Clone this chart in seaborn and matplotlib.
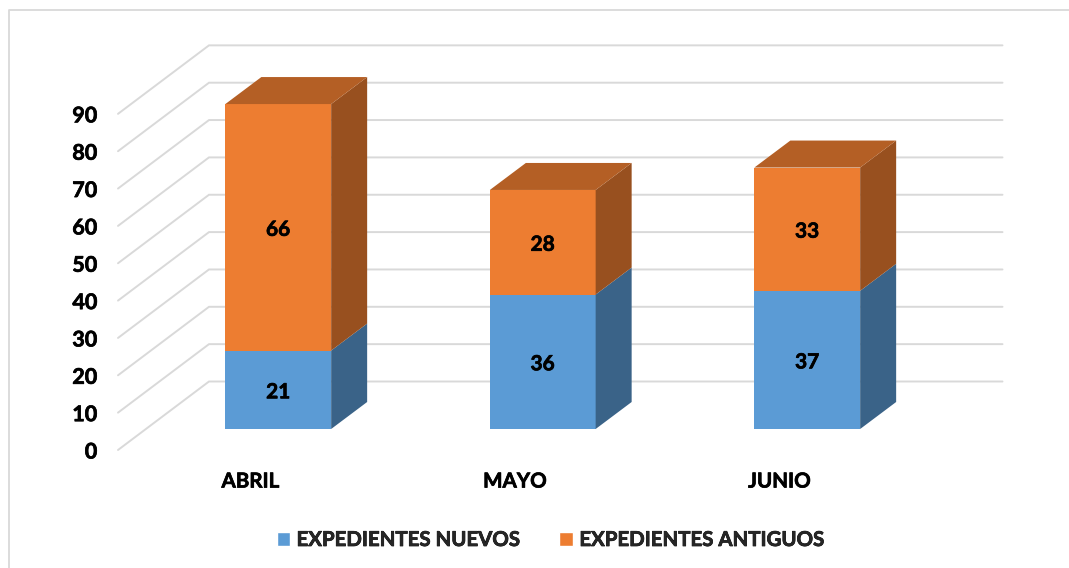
import matplotlib
matplotlib.use('Agg')
import matplotlib.pyplot as plt
import matplotlib.colors as mcolors
from matplotlib.patches import Polygon, Patch
import matplotlib.patheffects as pe
import pandas as pd
import seaborn as sns

# Values
months = ['ABRIL', 'MAYO', 'JUNIO']
nuevos = [21, 36, 37]
antiguos = [66, 28, 33]
y_ticks = list(range(0, 100, 10))

BLUE = '#5b9bd5'
ORANGE = '#ed7d31'
GRID = '#d9d9d9'

W, H = 1069, 568
PX_Y = 37.35 / 10   # pixels per unit on the y axis
PX_X = 264.5        # pixels per category

sns.set_theme(style='white')
plt.rcParams['font.family'] = ['Lato', 'DejaVu Sans']
plt.rcParams['font.weight'] = 'bold'

# Lato bold is a bit lighter than the original, so thicken it slightly
thick = [pe.withStroke(linewidth=0.5, foreground='black')]

df = pd.DataFrame({'mes': months, 'nuevos': nuevos, 'antiguos': antiguos})
df['total'] = df['nuevos'] + df['antiguos']

fig = plt.figure(figsize=(W / 100, H / 100), dpi=100)


def make_axes(left, y0):
    # axes spanning three categories, with y=0 at pixel y0, same scale for both planes
    height = 110 * PX_Y
    ax = fig.add_axes([left / W, (H - y0) / H, 3 * PX_X / W, height / H])
    ax.set_xlim(-0.5, 2.5)
    ax.set_ylim(0, 110)
    ax.patch.set_alpha(0)
    sns.despine(ax=ax, left=True, bottom=True)
    return ax


# chart border
fig.add_artist(plt.Line2D([8.5 / W, 8.5 / W, 1], [0, 1 - 10 / H, 1 - 10 / H], color=GRID, lw=1.3))

# wall plane: gridlines, y labels, month labels
wall = make_axes(118, 450)
wall_dx = 91 / PX_X
wall_dy = 68.5 / PX_Y
for v in y_ticks:
    wall.plot([-0.5, -0.5 + wall_dx, 2.5 + wall_dx], [v, v + wall_dy, v + wall_dy],
              color=GRID, lw=1.4, clip_on=False, solid_joinstyle='miter')
wall.set_yticks(y_ticks)
wall.set_yticklabels(y_ticks, fontsize=15.5, fontweight='bold', color='black', path_effects=thick)
wall.set_xticks(range(len(months)))
wall.set_xticklabels(months, fontsize=14.8, fontweight='bold', color='black', path_effects=thick)
wall.tick_params(axis='y', length=0, pad=15)
wall.tick_params(axis='x', length=0, pad=15.5)
for lab in wall.get_yticklabels():
    lab.set_verticalalignment('center_baseline')

# bar plane: front faces drawn by seaborn, stacked
ax = make_axes(146, 429)
sns.barplot(data=df, x='mes', y='total', color=ORANGE, width=0.4, saturation=1, linewidth=0, ax=ax)
sns.barplot(data=df, x='mes', y='nuevos', color=BLUE, width=0.4, saturation=1, linewidth=0, ax=ax)
ax.set_xlim(-0.5, 2.5)
ax.set_ylim(0, 110)
ax.set_xlabel('')
ax.set_ylabel('')
ax.set_xticks([])
ax.set_yticks([])

# side and top faces of the bars
dx = 36 / PX_X
dy = 27 / PX_Y
half = 0.2


def dark(color, f):
    r, g, b = mcolors.to_rgb(color)
    return (r * f, g * f, b * f)


for i in range(len(months)):
    x1 = i + half
    x0 = i - half
    n = nuevos[i]
    t = n + antiguos[i]
    ax.add_patch(Polygon([(x1, 0), (x1 + dx, dy), (x1 + dx, n + dy), (x1, n)],
                         fc=dark(BLUE, 0.64), ec='none', clip_on=False))
    ax.add_patch(Polygon([(x1, n), (x1 + dx, n + dy), (x1 + dx, t + dy), (x1, t)],
                         fc=dark(ORANGE, 0.64), ec='none', clip_on=False))
    ax.add_patch(Polygon([(x0, t), (x0 + dx, t + dy), (x1 + dx, t + dy), (x1, t)],
                         fc=dark(ORANGE, 0.76), ec='none', clip_on=False))
    for y, val in [(n / 2, n), (n + antiguos[i] / 2, antiguos[i])]:
        ax.annotate(str(val), (i, y), xytext=(0, -1.8), textcoords='offset points',
                    ha='center', va='center', fontsize=15, fontweight='bold', color='black',
                    path_effects=thick)

# legend
handles = [Patch(fc=BLUE, label='EXPEDIENTES NUEVOS'), Patch(fc=ORANGE, label='EXPEDIENTES ANTIGUOS')]
leg = fig.legend(handles=handles, loc='center', bbox_to_anchor=(550 / W, 1 - 540 / H), ncol=2, frameon=False,
                 prop={'size': 14.7, 'weight': 'bold'}, handlelength=0.68, handleheight=0.68,
                 handletextpad=0.3, columnspacing=1.95)
for txt in leg.get_texts():
    txt.set_path_effects(thick)

fig.savefig('out.png', dpi=100)
